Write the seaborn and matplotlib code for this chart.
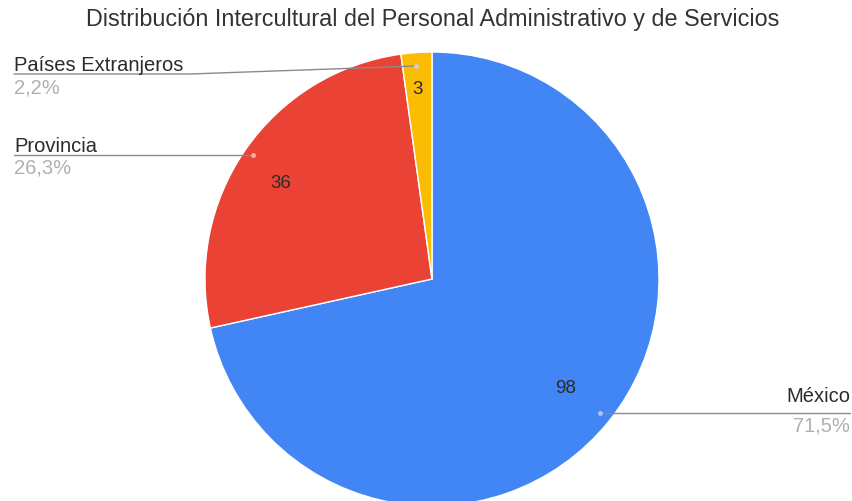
import matplotlib
matplotlib.use("Agg")
import matplotlib.pyplot as plt
import seaborn as sns

categories = ["México", "Provincia", "Países Extranjeros"]
values = [98, 36, 3]
percent_labels = ["71,5%", "26,3%", "2,2%"]
colors = ["#4285F4", "#EA4335", "#FBBC04"]

sns.set_theme(style="white")
plt.rcParams['font.family'] = ['Liberation Sans', 'DejaVu Sans']

W, H = 852, 502
fig = plt.figure(figsize=(W / 100, H / 100), dpi=100)
ax = fig.add_axes([0, 0, 1, 1])
ax.set_xlim(0, W)
ax.set_ylim(0, H)
ax.set_aspect('equal')
ax.axis('off')

def Y(py):
    return H - py

cx, cy, r = 432, Y(280), 227
wedges, _ = ax.pie(values, colors=colors, startangle=90, counterclock=False,
                   center=(cx, cy), radius=r,
                   wedgeprops=dict(edgecolor='white', linewidth=1))
ax.set_xlim(0, W)
ax.set_ylim(0, H)

LAB = 14.5
VAL = 13.5
dark = '#2b2b2b'
grey = '#b0b0b0'

# value labels inside slices
val_pos = [(566, 389), (281, 183), (418, 89)]
for v, (px, py) in zip(values, val_pos):
    ax.text(px, Y(py), str(v), ha='center', va='center', fontsize=VAL, color=dark)

# outside labels with leader lines
line_col = '#8a8a8a'
# Países Extranjeros
ax.plot([14, 190, 416], [Y(75), Y(75), Y(67)], color=line_col, lw=1.0)
ax.plot([416], [Y(67)], 'o', color='#d0d0d0', ms=2.5)
ax.text(14, Y(71), categories[2], ha='left', va='baseline', fontsize=LAB, color=dark)
ax.text(14, Y(94), percent_labels[2], ha='left', va='baseline', fontsize=LAB, color=grey)
# Provincia
ax.plot([14, 252], [Y(156), Y(156)], color=line_col, lw=1.0)
ax.plot([253], [Y(156)], 'o', color='#f3b0a8', ms=2.5)
ax.text(14, Y(152), categories[1], ha='left', va='baseline', fontsize=LAB, color=dark)
ax.text(14, Y(174), percent_labels[1], ha='left', va='baseline', fontsize=LAB, color=grey)
# México
ax.plot([600, 850], [Y(414), Y(414)], color=line_col, lw=1.0)
ax.plot([600], [Y(414)], 'o', color='#a8c6f8', ms=2.5)
ax.text(850, Y(402), categories[0], ha='right', va='baseline', fontsize=LAB, color=dark)
ax.text(850, Y(432), percent_labels[0], ha='right', va='baseline', fontsize=LAB, color=grey)

ax.text(433, Y(26), "Distribución Intercultural del Personal Administrativo y de Servicios",
        ha='center', va='baseline', fontsize=16.8, color='#333333')

fig.savefig("out.png", dpi=100)
